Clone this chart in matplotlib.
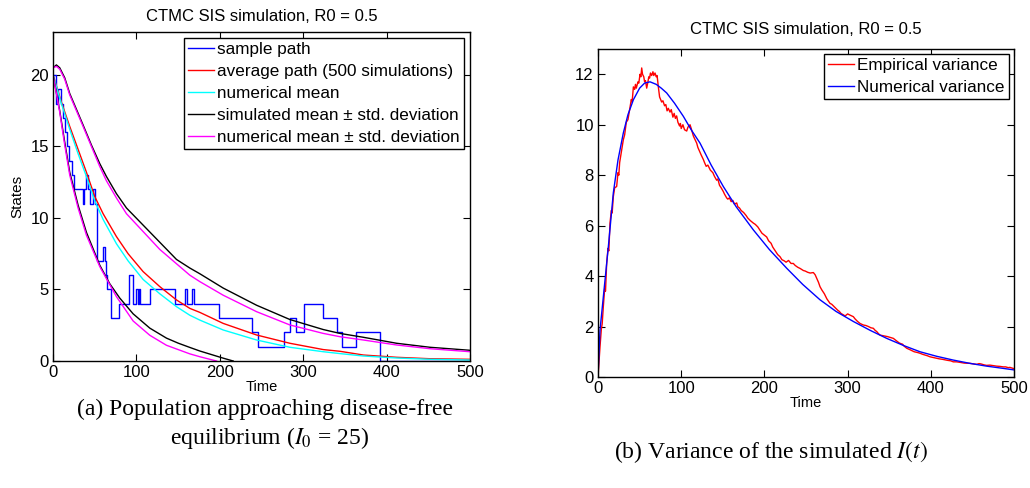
import matplotlib
matplotlib.use("Agg")
import matplotlib.pyplot as plt

plt.rcParams['font.family'] = 'Liberation Sans'
plt.rcParams['mathtext.fontset'] = 'stix'
plt.rcParams['xtick.direction'] = 'in'
plt.rcParams['ytick.direction'] = 'in'

# ---- left panel: sample path (jump times / states) ----
path_t = [0, 3.6, 6.5, 9.2, 11.6, 14.4, 16.8, 19.6, 22.4, 25, 36.4, 37.4, 39.6, 41.6, 44,
          48.4, 50.4, 52.6, 60.3, 62.3, 63.3, 65.1, 69.5, 79.2, 90.5, 91.5, 96.3, 99.5,
          101.5, 103, 104, 116.3, 146.3, 158.3, 161.1, 166, 169.5, 199, 239, 245.5, 276.5,
          284, 291, 301, 324, 340, 347, 363, 392, 500]
path_s = [20, 18, 19, 18, 17, 16, 15, 14, 13, 12, 11, 12, 13, 12, 11,
          12, 11, 7, 8, 7, 6, 5, 3, 4, 5, 6, 4, 5,
          4, 5, 4, 5, 4, 5, 4, 5, 4, 3, 2, 1, 2,
          3, 2, 4, 3, 2, 1, 2, 0, 0]

# average path of 500 simulations
avg_t = [0, 10, 20, 30, 40, 50, 60, 76, 90, 108, 128, 148, 164, 176, 204, 244, 284, 324,
         344, 372, 412, 452, 500]
avg_v = [20.0, 18.1, 16.4, 14.8, 13.2, 11.5, 10.3, 8.7, 7.5, 6.25, 5.2, 4.27, 3.68, 3.4,
         2.63, 1.82, 1.24, 0.8, 0.68, 0.42, 0.26, 0.16, 0.12]

# numerical mean
num_t = [0, 10, 20, 30, 40, 50, 60, 76, 90, 108, 128, 148, 164, 176, 204, 244, 284, 324,
         344, 372, 412, 452, 500]
num_v = [20.0, 18.0, 16.2, 14.5, 12.9, 11.2, 9.9, 8.2, 7.0, 5.7, 4.7, 3.8, 3.2, 2.86,
         2.17, 1.47, 0.96, 0.65, 0.52, 0.35, 0.21, 0.12, 0.07]

# simulated mean +/- std
sim_hi_t = [0, 4, 8, 14, 20, 28, 36, 46, 56, 64, 76, 88, 108, 128, 148, 164, 176, 204,
            244, 284, 324, 344, 372, 412, 452, 500]
sim_hi_v = [20.5, 20.7, 20.5, 19.8, 18.7, 17.6, 16.5, 15.1, 13.8, 12.9, 11.7, 10.7, 9.5,
            8.3, 7.1, 6.5, 6.1, 5.1, 3.9, 2.9, 2.2, 1.93, 1.66, 1.24, 0.96, 0.75]
sim_lo_t = [0, 8, 14, 20, 30, 40, 56, 68, 80, 96, 116, 136, 150, 164, 176, 190, 204, 216]
sim_lo_v = [20.0, 17.5, 15.3, 13.2, 10.9, 9.0, 6.7, 5.4, 4.4, 3.3, 2.3, 1.6, 1.25, 0.95,
            0.7, 0.45, 0.2, 0.0]

# numerical mean +/- std
num_hi_t = [0, 4, 8, 14, 20, 28, 36, 46, 56, 64, 76, 88, 108, 128, 148, 164, 176, 204,
            244, 284, 324, 344, 372, 412, 452, 500]
num_hi_v = [20.5, 20.6, 20.4, 19.7, 18.6, 17.5, 16.4, 15.0, 13.6, 12.6, 11.4, 10.3, 9.05,
            7.8, 6.8, 6.0, 5.55, 4.6, 3.45, 2.52, 1.93, 1.7, 1.47, 1.12, 0.86, 0.65]
num_lo_t = [0, 8, 14, 20, 30, 40, 56, 76, 96, 116, 136, 164, 176, 196]
num_lo_v = [20.0, 17.4, 15.1, 13.0, 10.7, 8.8, 6.6, 4.5, 2.8, 1.8, 1.1, 0.5, 0.3, 0.0]

# ---- right panel: variance (time, value) ----
emp_points = [
    (0, 0), (1, 0.5), (2.4, 1.2), (4, 1.9), (5, 2.1), (6.4, 2.8), (8, 3.5), (9, 3.4),
    (10.4, 4.5), (12, 5.1), (13, 5.0), (14.4, 6.1), (16, 6.6), (17, 6.5), (18.4, 7.15),
    (20, 7.5), (22.4, 7.55), (24, 8.1), (25, 8.0), (26, 8.5), (28, 8.9), (30.4, 9.4),
    (32, 9.6), (34, 10.1), (36, 10.2), (38.5, 10.7), (40, 11.0), (41, 10.9), (42.5, 11.5),
    (44, 11.4), (45, 11.6), (46, 11.45), (48, 11.7), (49, 11.65), (50.5, 12.0),
    (51.5, 11.9), (52.5, 12.25), (53.5, 12.0), (55, 11.9), (56, 11.7), (57, 11.75),
    (58.5, 11.45), (60, 11.7), (61, 11.9), (62, 11.85), (63, 12.05), (64.5, 11.95),
    (66, 12.1), (67, 11.95), (68.5, 12.05), (70, 11.9), (71, 11.95), (72.5, 11.5),
    (74, 11.1), (76.5, 10.9), (78, 10.95), (80, 10.75), (81.5, 10.8), (83, 10.55),
    (84.5, 10.65), (86.5, 10.5), (88, 10.6), (90, 10.3), (91.5, 10.45), (93, 10.25),
    (94.5, 10.35), (96, 10.1), (98, 9.95), (99, 10.05), (100, 9.85), (102, 10.0),
    (104, 9.8), (106.6, 9.75), (108, 9.9), (110.6, 10.0), (112, 9.85), (114.6, 9.55),
    (116, 9.45), (118.6, 9.27), (120, 9.1), (122, 8.95), (124, 8.8), (126.6, 8.62),
    (128, 8.5), (130, 8.35), (132, 8.4), (135, 8.2), (138, 8.1), (140, 7.95),
    (142.6, 7.8), (144, 7.85), (146, 7.6), (148, 7.5), (150.6, 7.35), (152, 7.25),
    (154.6, 7.1), (156, 7.05), (158, 7.1), (160, 6.95), (162, 7.0), (164, 6.85),
    (166.7, 6.9), (168, 6.75), (170, 6.7), (172, 6.6), (175, 6.52), (178, 6.4),
    (180, 6.3), (183, 6.2), (186.7, 6.1), (189, 6.05), (192, 5.95), (194, 5.85),
    (197, 5.7), (200, 5.62), (202.7, 5.55), (205, 5.4), (208, 5.3), (210, 5.15),
    (213, 5.0), (216, 4.85), (218.7, 4.77), (221, 4.65), (224, 4.6), (226, 4.55),
    (229, 4.62), (232, 4.5), (234.7, 4.5), (237, 4.42), (240, 4.35), (243, 4.3),
    (246.8, 4.22), (249, 4.2), (252, 4.15), (255, 4.12), (258.8, 4.14), (261, 4.05),
    (263, 3.9), (265, 3.75), (266.8, 3.58), (269, 3.45), (272, 3.3), (275, 3.1),
    (278.8, 2.92), (281, 2.88), (285, 2.75), (288, 2.65), (290, 2.6), (292, 2.52),
    (294.9, 2.46), (297, 2.42), (300, 2.5), (303, 2.45), (306.9, 2.39), (309, 2.3),
    (312, 2.2), (315, 2.12), (318.9, 2.06), (322, 2.04), (325, 2.0), (328, 1.95),
    (330.9, 1.93), (333, 1.85), (335, 1.8), (337, 1.72), (339, 1.66), (342, 1.64),
    (345, 1.62), (348, 1.6), (350, 1.58), (352, 1.56), (355, 1.53), (358, 1.45),
    (362, 1.35), (364, 1.32), (366, 1.3), (368, 1.22), (371, 1.14), (375, 1.08),
    (380, 1.0), (384, 0.97), (387, 0.94), (390, 0.9), (393, 0.87), (396, 0.84),
    (399, 0.8), (403, 0.77), (406, 0.75), (410, 0.72), (414, 0.7), (420, 0.66),
    (424, 0.64), (427, 0.6), (431, 0.6), (435, 0.58), (440, 0.55), (447, 0.54),
    (451, 0.52), (455, 0.5), (458, 0.53), (460, 0.52), (464, 0.48), (467, 0.46),
    (471, 0.47), (475, 0.45), (479, 0.43), (483, 0.42), (487, 0.4), (490, 0.4),
    (493, 0.37), (495, 0.38), (498, 0.35), (500, 0.33)]
nvar_t = [0, 2.4, 6.4, 12.4, 18.4, 24, 30.4, 36, 42.5, 50, 56, 62.5, 70, 76, 82.5, 92,
          102.6, 112, 122.6, 136, 150.6, 166, 186.7, 206, 226.8, 246, 266.8, 286, 306.9,
          327, 347, 367, 387, 407, 427, 447, 467, 485, 500]
nvar_v = [0, 1.86, 3.18, 5.16, 7.3, 8.6, 9.67, 10.4, 10.99, 11.45, 11.65, 11.7, 11.6,
          11.45, 11.26, 10.85, 10.33, 9.8, 9.27, 8.4, 7.55, 6.75, 5.83, 5.05, 4.31, 3.67,
          3.06, 2.6, 2.2, 1.85, 1.53, 1.25, 1.0, 0.82, 0.67, 0.54, 0.43, 0.35, 0.28]
emp_t, emp_v = zip(*emp_points)

title = 'CTMC SIS simulation, R0 = 0.5'

fig = plt.figure(figsize=(10.3, 4.88), dpi=100)
ax1 = fig.add_axes([0.0515, 0.2602, 0.4049, 0.6742])
ax2 = fig.add_axes([0.5806, 0.2275, 0.4039, 0.6720])

lw = 1.0
ax1.step(path_t, path_s, where='post', color='#0000ff', lw=lw, label='sample path')
ax1.plot(avg_t, avg_v, color='#ff0000', lw=lw, label='average path (500 simulations)')
ax1.plot(num_t, num_v, color='#00ffff', lw=lw, label='numerical mean')
ax1.plot(sim_hi_t, sim_hi_v, color='black', lw=lw, label='simulated mean \u00b1 std. deviation')
ax1.plot(sim_lo_t, sim_lo_v, color='black', lw=lw)
ax1.plot(num_hi_t, num_hi_v, color='#ff00ff', lw=lw, label='numerical mean \u00b1 std. deviation')
ax1.plot(num_lo_t, num_lo_v, color='#ff00ff', lw=lw)
ax1.set_xlim(0, 500)
ax1.set_ylim(0, 23)
ax1.set_xticks([0, 100, 200, 300, 400, 500])
ax1.set_yticks([0, 5, 10, 15, 20])
ax1.set_xlabel('Time', fontsize=10.5, labelpad=0)
ax1.set_ylabel('States', fontsize=11, labelpad=4)
ax1.set_title(title, fontsize=12, pad=8)

ax2.plot(emp_t, emp_v, color='#ff0000', lw=lw, label='Empirical variance')
ax2.plot(nvar_t, nvar_v, color='#0000ff', lw=lw, label='Numerical variance')
ax2.set_xlim(0, 500)
ax2.set_ylim(0, 13)
ax2.set_xticks([0, 100, 200, 300, 400, 500])
ax2.set_yticks([0, 2, 4, 6, 8, 10, 12])
ax2.set_xlabel('Time', fontsize=10.5, labelpad=0)
ax2.set_title(title, fontsize=12, pad=11)

for ax in (ax1, ax2):
    ax.tick_params(top=True, right=True, labelsize=12, length=5, width=0.8, pad=3)
    for sp in ax.spines.values():
        sp.set_linewidth(1.0)

leg_kw = dict(loc='upper right', fontsize=12.3, frameon=True, fancybox=False,
              framealpha=1, edgecolor='black', borderaxespad=0, handlelength=1.5,
              handletextpad=0.2, labelspacing=0.4, borderpad=0.25)
l1 = ax1.legend(bbox_to_anchor=(0.986, 0.982), **leg_kw)
l2 = ax2.legend(bbox_to_anchor=(0.988, 0.985), **leg_kw)
for lg in (l1, l2):
    lg.get_frame().set_linewidth(1.0)

cap = dict(fontsize=17, family='Liberation Serif', ha='center', va='center')
fig.text(0.257, 1 - 409 / 488, '(a) Population approaching disease-free', **cap)
fig.text(0.262, 1 - 438 / 488, r'equilibrium ($I_0$ = 25)', **cap)
fig.text(0.748, 1 - 452 / 488, r'(b) Variance of the simulated $I(t)$', **cap)

fig.savefig('out.png', dpi=100)
